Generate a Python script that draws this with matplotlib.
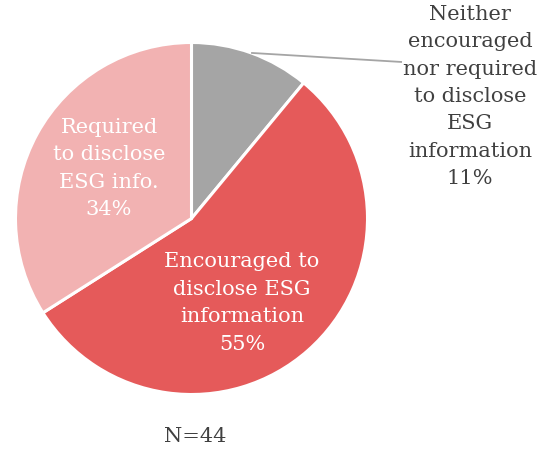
import matplotlib
matplotlib.use("Agg")
import matplotlib.pyplot as plt
import numpy as np

# Share of respondents by ESG disclosure regime
categories = [
    "Neither\nencouraged\nnor required\nto disclose\nESG\ninformation",
    "Encouraged to\ndisclose ESG\ninformation",
    "Required\nto disclose\nESG info.",
]
shares = [11, 55, 34]
colors = ["#A5A5A5", "#E55A5A", "#F2B2B2"]
sample_note = "N=44"

W, H = 547, 450
plt.rcParams["font.family"] = ["DejaVu Serif"]

fig = plt.figure(figsize=(W / 100, H / 100), dpi=100)
ax = fig.add_axes([0, 0, 1, 1])

cx, cy, r = 191.5, H - 218.5, 176
wedges, _ = ax.pie(
    shares,
    colors=colors,
    startangle=90,
    counterclock=False,
    center=(cx, cy),
    radius=r,
    wedgeprops=dict(edgecolor="white", linewidth=2.2),
    frame=True,
)
ax.set_xlim(0, W)
ax.set_ylim(0, H)
ax.set_aspect("equal")
ax.axis("off")

# leader line from the small grey slice to its outside label
w0 = wedges[0]
mid = np.deg2rad((w0.theta1 + w0.theta2) / 2)
x0, y0 = cx + r * np.cos(mid), cy + r * np.sin(mid)
ax.plot([x0, 402], [y0, H - 62], color="#A5A5A5", lw=1.3, solid_capstyle="butt")

fs = 15
ls = 1.56
ax.text(470, H - 96.5, f"{categories[0]}\n{shares[0]}%", ha="center", va="center",
        fontsize=fs, color="#404040", linespacing=ls)
ax.text(242, H - 303, f"{categories[1]}\n{shares[1]}%", ha="center", va="center",
        fontsize=fs, color="white", linespacing=ls)
ax.text(109, H - 168.5, f"{categories[2]}\n{shares[2]}%", ha="center", va="center",
        fontsize=fs, color="white", linespacing=ls)
ax.text(195, H - 436, sample_note, ha="center", va="center",
        fontsize=fs, color="#404040")

fig.savefig("out.png", dpi=100)
